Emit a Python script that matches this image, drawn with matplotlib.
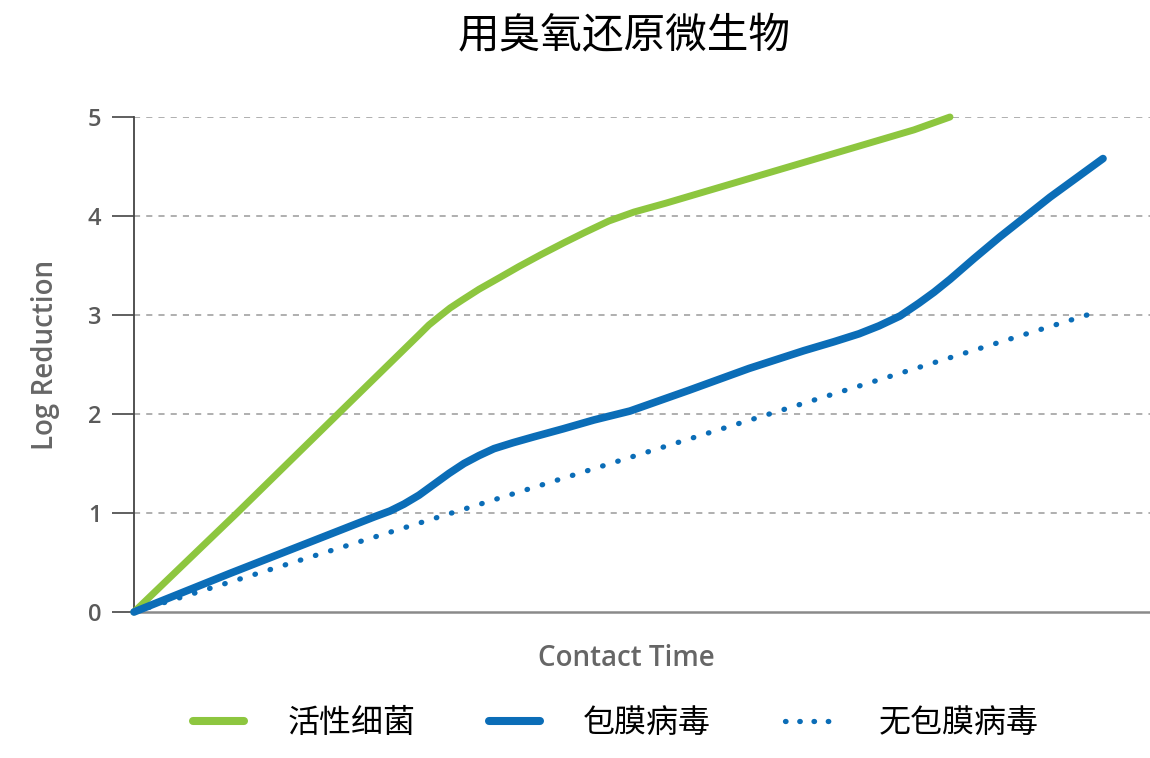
import matplotlib
matplotlib.use("Agg")
import matplotlib.pyplot as plt
from matplotlib.lines import Line2D

plt.rcParams['font.family'] = ['Noto Sans CJK SC', 'DejaVu Sans']

# log reduction curves vs. contact time (arbitrary time units)
bacteria_x = [0, 10.3, 20.4, 28.5, 29.5, 30.6, 31.6, 32.8, 34.5, 36.6, 38.5, 40.7,
              43.0, 45.0, 47.5, 50.0, 53.2, 65.6, 78.0, 81.6]
bacteria_y = [0, 1.0, 2.0, 2.80, 2.90, 2.99, 3.07, 3.15, 3.26, 3.38, 3.49, 3.61,
              3.73, 3.83, 3.95, 4.04, 4.13, 4.50, 4.87, 5.0]

enveloped_x = [0, 9.6, 16.3, 24.0, 25.6, 27.0, 28.5, 30.0, 31.5, 33.0, 34.5, 36.0,
               37.9, 40.0, 42.9, 46.0, 49.6, 55.5, 61.5, 67.0, 70.0, 72.5, 74.5,
               76.6, 78.5, 80.0, 81.6, 84.0, 86.6, 91.6, 96.9]
enveloped_y = [0, 0.39, 0.655, 0.96, 1.02, 1.09, 1.18, 1.29, 1.40, 1.50, 1.58, 1.65,
               1.71, 1.77, 1.85, 1.94, 2.03, 2.24, 2.46, 2.64, 2.73, 2.81, 2.89,
               2.99, 3.12, 3.23, 3.36, 3.57, 3.79, 4.19, 4.58]

nonenv_x = [0, 95.3]
nonenv_y = [0, 3.0]

labels = ['活性细菌', '包膜病毒', '无包膜病毒']
yticks = [0, 1, 2, 3, 4, 5]

green = '#8dc63f'
blue = '#0b6db7'
latin = ['Open Sans', 'DejaVu Sans']

fig = plt.figure(figsize=(11.5, 7.58), dpi=100)
ax = fig.add_axes([134 / 1150, 1 - 612 / 758, 1016 / 1150, 495 / 758])

ax.plot(bacteria_x, bacteria_y, color=green, lw=5, solid_capstyle='round',
        solid_joinstyle='round', clip_on=False, zorder=3)
ax.plot(enveloped_x, enveloped_y, color=blue, lw=5.5, solid_capstyle='round',
        solid_joinstyle='round', clip_on=False, zorder=3)
ax.plot(nonenv_x, nonenv_y, color=blue, lw=3.8, linestyle=(0, (0.1, 2.9)),
        dash_capstyle='round', clip_on=False, zorder=3)

ax.set_xlim(0, 101.6)
ax.set_ylim(0, 5)
ax.set_yticks(yticks)
ax.set_xticks([])
for y in yticks[1:]:
    ax.axhline(y, color='#9a9a9a', lw=1.1, linestyle=(0, (4, 4)), zorder=1)

for side in ('top', 'right'):
    ax.spines[side].set_visible(False)
ax.spines['left'].set_color('#444444')
ax.spines['left'].set_linewidth(1.3)
ax.spines['bottom'].set_color('#8a8a8a')
ax.spines['bottom'].set_linewidth(1.8)

ax.tick_params(axis='y', length=15.5, width=1.2, color='#444444', pad=8,
               labelsize=17, labelcolor='#5a5a5a')
for t in ax.get_yticklabels():
    t.set_fontfamily(latin)
    t.set_fontweight('semibold')

ax.set_ylabel('Log Reduction', fontsize=20, color='#666666', fontfamily=latin,
              fontweight='semibold')
ax.yaxis.set_label_coords(-0.073, 0.52)
ax.set_xlabel('Contact Time', fontsize=20, color='#666666', fontfamily=latin,
              fontweight='semibold')
ax.xaxis.set_label_coords(0.485, -0.065)

fig.text(624 / 1150, 1 - 37 / 758, '用臭氧还原微生物', ha='center', va='center',
         fontsize=30, color='black')

handles = [
    Line2D([], [], color=green, lw=5.8, solid_capstyle='round'),
    Line2D([], [], color=blue, lw=5.8, solid_capstyle='round'),
    Line2D([], [], color=blue, lw=3.8, linestyle=(0, (0.1, 2.6)), dash_capstyle='round'),
]
fig.legend(handles, labels, loc='center', bbox_to_anchor=(616 / 1150, 1 - 723 / 758),
           ncol=3, frameon=False, prop={'size': 23, 'weight': 'medium'},
           handlelength=1.6, handletextpad=1.35, columnspacing=2.3)

fig.savefig('out.png', dpi=100)
